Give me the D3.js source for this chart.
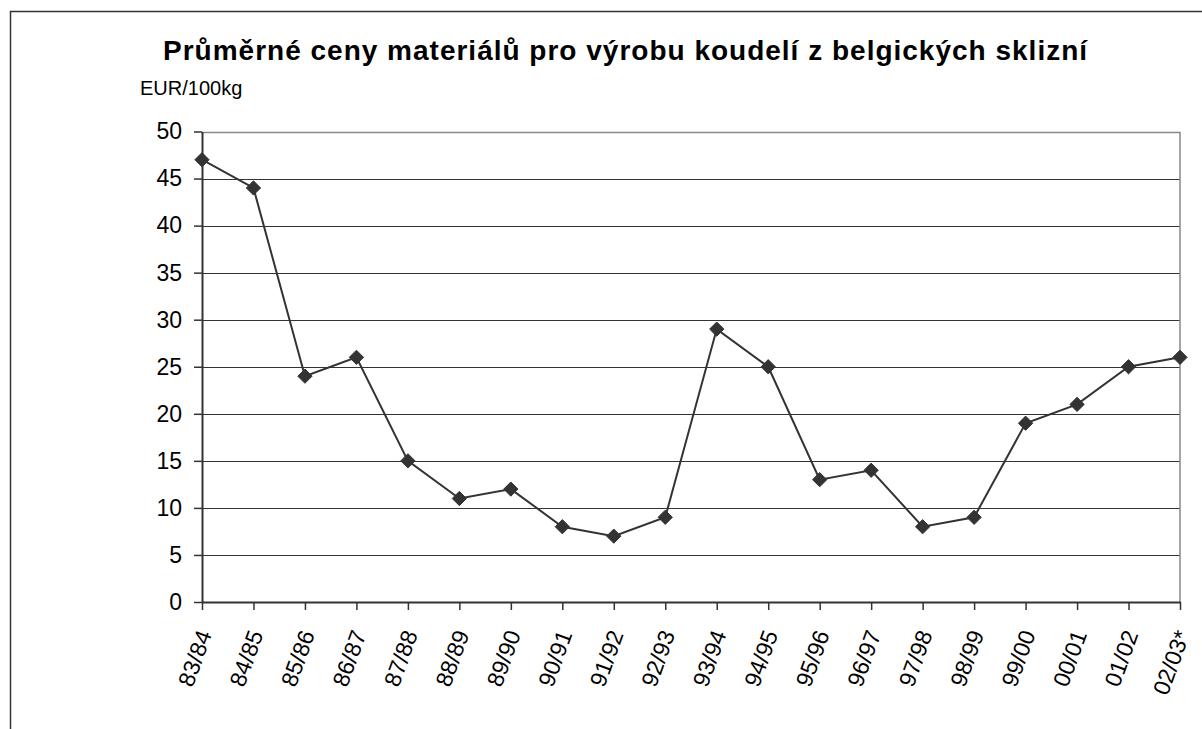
<!DOCTYPE html>
<html>
<head>
<meta charset="utf-8">
<script src="https://cdn.jsdelivr.net/npm/d3@7"></script>
<style>
  html, body { margin: 0; padding: 0; background: #fff; }
  svg { display: block; font-family: "Liberation Sans", Arial, sans-serif; }
</style>
</head>
<body>
<div id="chart"></div>
<script>
// data
const seasons = ["83/84", "84/85", "85/86", "86/87", "87/88", "88/89", "89/90", "90/91", "91/92", "92/93",
  "93/94", "94/95", "95/96", "96/97", "97/98", "98/99", "99/00", "00/01", "01/02", "02/03*"];
const prices = [47, 44, 24, 26, 15, 11, 12, 8, 7, 9, 29, 25, 13, 14, 8, 9, 19, 21, 25, 26];
const yTicks = [0, 5, 10, 15, 20, 25, 30, 35, 40, 45, 50];

const width = 1202;
const height = 729;

const plot = { left: 202, right: 1180, top: 131.5, bottom: 602 };

const svg = d3.select("#chart")
  .append("svg")
  .attr("width", width)
  .attr("height", height);

// vnější rámeček (přesahuje doprava a dolů)
svg.append("rect")
  .attr("x", 10.5)
  .attr("y", 11.5)
  .attr("width", 1200)
  .attr("height", 730)
  .attr("fill", "none")
  .attr("stroke", "#333")
  .attr("stroke-width", 1.5);

const x = d3.scalePoint()
  .domain(seasons)
  .range([plot.left, plot.right]);

const y = d3.scaleLinear()
  .domain([0, 50])
  .range([plot.bottom, plot.top]);

// mřížka
svg.append("g")
  .selectAll("line")
  .data(yTicks.filter(d => d > 0 && d < 50))
  .join("line")
  .attr("x1", plot.left)
  .attr("x2", plot.right)
  .attr("y1", d => Math.round(y(d)) + 0.5)
  .attr("y2", d => Math.round(y(d)) + 0.5)
  .attr("stroke", "#333")
  .attr("stroke-width", 1.2);

// horní a pravý okraj plochy grafu
svg.append("path")
  .attr("d", `M${plot.left},${Math.round(y(50)) + 0.5}H${plot.right}V${plot.bottom}`)
  .attr("fill", "none")
  .attr("stroke", "#888")
  .attr("stroke-width", 1.5);

// osa Y
const yAxis = svg.append("g")
  .attr("transform", `translate(${plot.left},0)`)
  .call(d3.axisLeft(y).tickValues(yTicks).tickSize(8).tickPadding(12).tickSizeOuter(0));

yAxis.select(".domain").attr("stroke", "#333").attr("stroke-width", 2);
yAxis.selectAll(".tick line").attr("stroke", "#333").attr("stroke-width", 1.5);
yAxis.selectAll(".tick text")
  .attr("font-size", 23)
  .attr("font-family", "Liberation Sans, Arial, sans-serif")
  .attr("fill", "#000");

// osa X
const xAxis = svg.append("g")
  .attr("transform", `translate(0,${plot.bottom})`)
  .call(d3.axisBottom(x).tickSize(8).tickSizeOuter(0));

xAxis.select(".domain").attr("stroke", "#333").attr("stroke-width", 2);
xAxis.selectAll(".tick line").attr("stroke", "#333").attr("stroke-width", 1.5);
xAxis.selectAll(".tick text")
  .attr("font-size", 23)
  .attr("font-family", "Liberation Sans, Arial, sans-serif")
  .attr("fill", "#000")
  .attr("text-anchor", "end")
  .attr("dy", null)
  .attr("y", null)
  .attr("transform", "translate(4,30) rotate(-70)")
  .attr("dominant-baseline", "middle");

// čára
const line = d3.line()
  .x((d, i) => x(seasons[i]))
  .y(d => y(d));

svg.append("path")
  .datum(prices)
  .attr("d", line)
  .attr("fill", "none")
  .attr("stroke", "#333")
  .attr("stroke-width", 2);

// značky (kosočtverce)
svg.append("g")
  .selectAll("path")
  .data(prices)
  .join("path")
  .attr("d", d3.symbol().type(d3.symbolDiamond2).size(130))
  .attr("transform", (d, i) => `translate(${x(seasons[i])},${y(d)})`)
  .attr("fill", "#333")
  .attr("stroke", "#333")
  .attr("stroke-width", 1);

// titulek
svg.append("text")
  .attr("x", 163)
  .attr("y", 60)
  .attr("font-size", 28)
  .attr("font-weight", "bold")
  .attr("letter-spacing", 1)
  .attr("fill", "#000")
  .text("Průměrné ceny materiálů pro výrobu koudelí z belgických sklizní");

svg.append("text")
  .attr("x", 140)
  .attr("y", 95)
  .attr("font-size", 20)
  .attr("letter-spacing", 0)
  .attr("fill", "#000")
  .text("EUR/100kg");
</script>
</body>
</html>
